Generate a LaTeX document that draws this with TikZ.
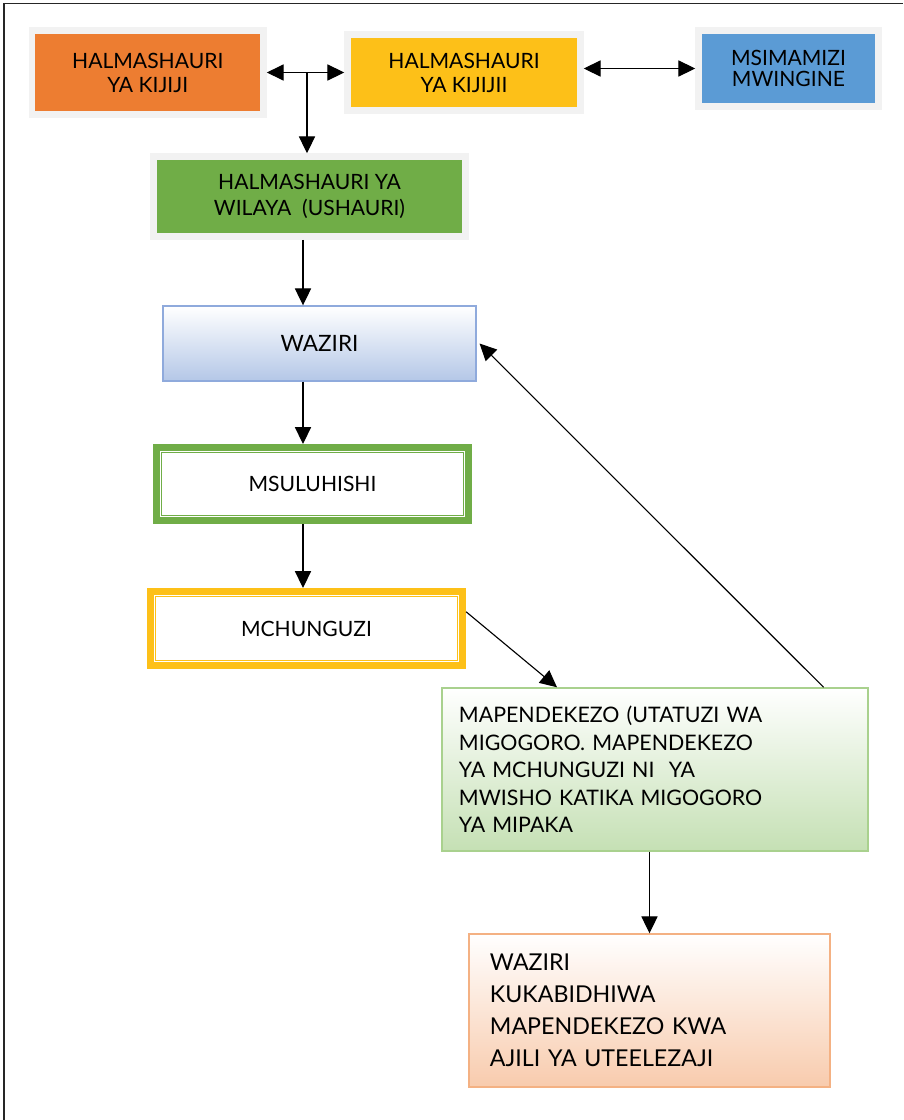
\documentclass[tikz,border=0pt]{standalone}
\usepackage{fontspec}
\setmainfont{Lato}
\usetikzlibrary{arrows.meta}

\definecolor{kijijiorange}{HTML}{ED7D31}
\definecolor{kijijiyellow}{HTML}{FDC018}
\definecolor{msimblue}{HTML}{5B9BD5}
\definecolor{wilayagreen}{HTML}{70AD47}
\definecolor{framegray}{HTML}{F2F2F2}
\definecolor{wazirilight}{HTML}{B4C7E7}
\definecolor{waziriedge}{HTML}{8FAADC}
\definecolor{pendlight}{HTML}{C5E0B4}
\definecolor{pendedge}{HTML}{A9D18E}
\definecolor{ripotilight}{HTML}{F8CBAD}
\definecolor{ripotiedge}{HTML}{F4B183}

\tikzset{
  topbox/.style={rectangle, fill=#1, draw=framegray, line width=4.6pt, inner sep=0pt, align=center},
  fadebox/.style 2 args={rectangle, top color=white, bottom color=#1, draw=#2, line width=1pt, inner sep=0pt},
  ringbox/.style={rectangle, draw=#1, line width=5pt, fill=white, inner sep=0pt, font=\fontsize{15}{17}\selectfont},
  link/.style={line width=0.8pt, >={Triangle[length=12pt, width=11.5pt]}}
}

\begin{document}
\begin{tikzpicture}[x=0.025cm, y=-0.025cm]
      \useasboundingbox (0,0) rectangle (903,1120);
      \draw[line width=0.8pt, black!85] (4,1120) -- (4,3.5) -- (903,3.5);

      \node[topbox=kijijiorange, minimum width=5.79cm, minimum height=2.1cm, font=\fontsize{15}{17}\selectfont] (kijiji1) at (147.75,72.5) {HALMASHAURI\\YA KIJIJI};
      \node[topbox=kijijiyellow, minimum width=5.825cm, minimum height=1.9cm, font=\fontsize{15}{17}\selectfont] (kijiji2) at (464,72.5) {HALMASHAURI\\YA KIJIJII};
      \node[topbox=msimblue, minimum width=4.5cm, minimum height=1.9cm, font=\fontsize{15}{15}\selectfont] (msimamizi) at (788.5,68.5) {MSIMAMIZI\\MWINGINE};
      \node[topbox=wilayagreen, minimum width=7.8cm, minimum height=2cm, font=\fontsize{15}{19}\selectfont] (wilaya) at (309.5,196.5) {HALMASHAURI YA\\WILAYA\ \ (USHAURI)};

      \node[fadebox={wazirilight}{waziriedge}, minimum width=7.825cm, minimum height=1.875cm, font=\fontsize{16}{18}\selectfont] (waziri) at (319.5,343.5) {WAZIRI};
      \node[ringbox=wilayagreen, minimum width=7.8cm, minimum height=1.825cm] (msuluhishi) at (312.5,484) {MSULUHISHI};
      \node[ringbox=kijijiyellow, minimum width=7.8cm, minimum height=1.85cm] (mchunguzi) at (306.5,628.5) {MCHUNGUZI};
      \draw[wilayagreen, line width=0.7pt] ([shift={(8.8,8.8)}]msuluhishi.north west) rectangle ([shift={(-8.8,-8.8)}]msuluhishi.south east);
      \draw[kijijiyellow, line width=0.7pt] ([shift={(9,9)}]mchunguzi.north west) rectangle ([shift={(-9,-9)}]mchunguzi.south east);

      \node[fadebox={pendlight}{pendedge}, minimum width=10.65cm, minimum height=4.075cm, text width=9.8cm, inner xsep=0.425cm, align=left, font=\fontsize{15.2}{19.6}\selectfont] (mapendekezo) at (655,769.5) {MAPENDEKEZO (UTATUZI WA\\MIGOGORO. MAPENDEKEZO\\YA MCHUNGUZI NI\ \ YA\\MWISHO KATIKA MIGOGORO\\YA MIPAKA};
      \node[fadebox={ripotilight}{ripotiedge}, minimum width=9.025cm, minimum height=3.825cm, text width=7.975cm, inner xsep=0.525cm, align=left, font=\fontsize{16.5}{22.8}\selectfont] (kukabidhi) at (649.5,1010.5) {WAZIRI\\KUKABIDHIWA\\MAPENDEKEZO KWA\\AJILI YA UTEELEZAJI};

      \coordinate (tjunc) at (307,72.5);
      \coordinate (spine) at (303,0);

      \draw[link, <->] (kijiji1.east) -- (kijiji2.west);
      \draw[link, ->] (tjunc) -- (tjunc |- wilaya.north);
      \draw[link, <->] (kijiji2.east |- msimamizi) -- (msimamizi.west);
      \draw[link, ->] (wilaya.south -| spine) -- (waziri.north -| spine);
      \draw[link, ->] (waziri.south -| spine) -- (msuluhishi.north -| spine);
      \draw[link, ->] (msuluhishi.south -| spine) -- (mchunguzi.north -| spine);
      \draw[link, ->] (mchunguzi.6) -- (mapendekezo.140);
      \draw[link, ->] (mapendekezo.26) -- ([xshift=2pt]waziri.east);
      \draw[link, ->] (mapendekezo.south -| kukabidhi.north) -- (kukabidhi.north);
    \end{tikzpicture}
\end{document}
